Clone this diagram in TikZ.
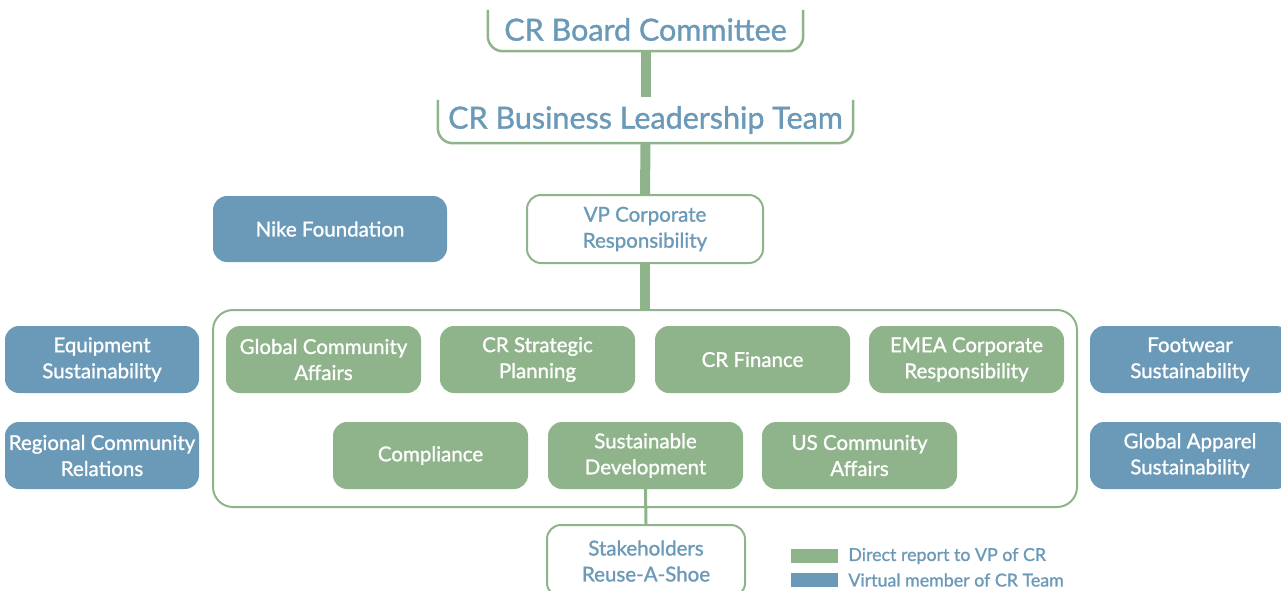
\documentclass[tikz,border=0pt]{standalone}
\usepackage{fontspec}
\setmainfont{Lato}
\newfontfamily\medium{Lato}[FakeBold=1.2]
\usetikzlibrary{positioning}
\definecolor{crgreen}{RGB}{143,179,138}
\definecolor{crblue}{RGB}{106,154,184}

\tikzset{
  unit/.style={rounded corners=14pt, align=center, inner sep=0pt,
    minimum width=195pt, minimum height=67pt,
    font=\medium\fontsize{20.5}{26}\selectfont},
  direct/.style={unit, fill=crgreen, text=white},
  virtual/.style={unit, fill=crblue, text=white},
  openunit/.style={unit, draw=crgreen, line width=2pt, fill=white, text=crblue},
  bracket/.style={draw=crgreen, line width=2.5pt, rounded corners=15pt},
  title/.style={inner sep=0pt, text=crblue, font=\medium\fontsize{30.5}{32}\selectfont},
  biglink/.style={draw=crgreen, line width=10pt},
  smalllink/.style={draw=crgreen, line width=3pt},
  key/.style={inner sep=0pt, minimum width=47pt, minimum height=14pt},
  keytext/.style={inner sep=0pt, anchor=west, text=crblue, font=\medium\fontsize{17.8}{20}\selectfont}
}

\begin{document}
\begin{tikzpicture}[x=1pt,y=-1pt]
\useasboundingbox (0,0) rectangle (1281,590);
\clip (0,0) rectangle (1281,590);

% top of the tree
\node[title, minimum width=315pt, minimum height=43pt] (board) at (645.5,29.5) {CR Board Committee};
\node[title, minimum width=415pt, minimum height=46pt] (blt) at (645.5,120) {CR Business Leadership Team};
\draw[bracket] ([yshift=-2pt]board.north west)--(board.south west)--(board.south east)--([yshift=-2pt]board.north east);
\draw[bracket] ([yshift=-3pt]blt.north west)--(blt.south west)--(blt.south east)--([yshift=-3pt]blt.north east);

\node[openunit, minimum width=236pt, minimum height=68pt] (vp) at (645,229) {VP Corporate\\Responsibility};
\node[virtual, minimum width=234pt, minimum height=66pt] (nike) at (330,229) {Nike Foundation};

% CR team
\node[draw=crgreen, line width=2pt, rounded corners=20pt, minimum width=864pt, minimum height=197pt] (team) at (645,408.5) {};
\node[direct] (gca) at (323.5,359.5) {Global Community\\Affairs};
\node[direct] (plan) at (537.5,359.5) {CR Strategic\\Planning};
\node[direct] (fin) at (752.5,359.5) {CR Finance};
\node[direct] (emea) at (966.5,359.5) {EMEA Corporate\\Responsibility};
\node[direct] (comp) at (430.5,455.5) {Compliance};
\node[direct] (sdev) at (645.5,455.5) {Sustainable\\Development};
\node[direct] (usca) at (859.5,455.5) {US Community\\Affairs};

% virtual members
\node[virtual, minimum width=194pt] (equip) at (102,359.5) {Equipment\\Sustainability};
\node[virtual, minimum width=194pt] (region) at (102,455.5) {Regional Community\\Relations};
\node[virtual, minimum width=200pt] (foot) at (1190,359.5) {Footwear\\Sustainability};
\node[virtual, minimum width=200pt] (apparel) at (1190,455.5) {Global Apparel\\Sustainability};

\node[openunit, minimum width=198pt, minimum height=72pt] (stake) at (646,561) {Stakeholders\\Reuse-A-Shoe};

% links
\draw[biglink] (board.south)--(blt.north);
\draw[biglink] (blt.south)--(vp.north);
\draw[biglink] (vp.south)--(team.north);
\draw[smalllink] (sdev.south)--(stake.north);

% legend
\node[key, fill=crgreen] (keyd) at (814.5,556) {};
\node[key, fill=crblue] (keyv) at (814.5,580) {};
\node[keytext, right=10pt of keyd] {Direct report to VP of CR};
\node[keytext, right=10pt of keyv] {Virtual member of CR Team};
\end{tikzpicture}
\end{document}
